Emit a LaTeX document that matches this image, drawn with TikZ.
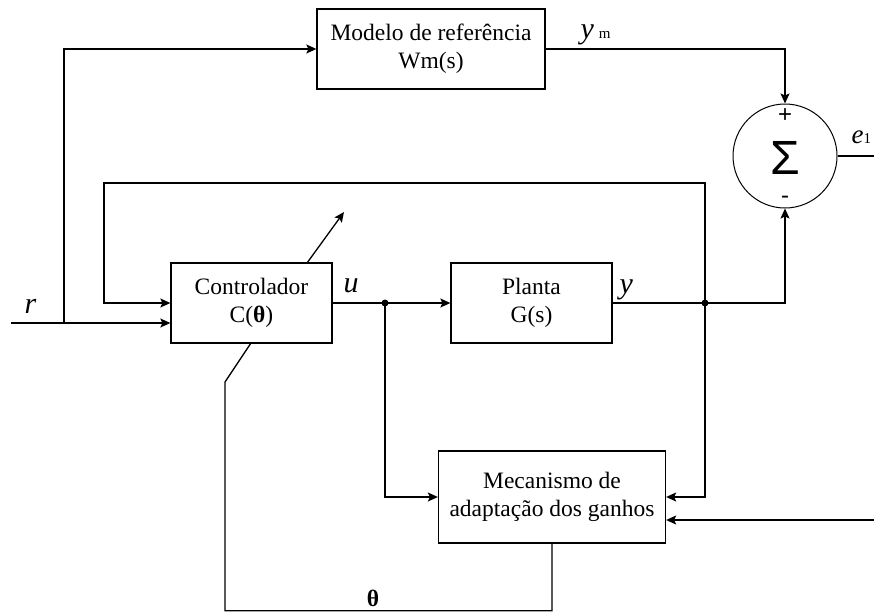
\documentclass[tikz,border=0pt]{standalone}
\usepackage{fontspec}
\setmainfont{Liberation Serif}
\newfontfamily\sigmafont{Liberation Sans}
\usetikzlibrary{arrows.meta}
\begin{document}
\begin{tikzpicture}[x=1pt,y=-1pt,
  font=\fontsize{23.5}{28}\selectfont,
  line width=1.3pt,
  blk/.style={draw, inner sep=0pt, align=center},
  arr/.style={-{Stealth[length=10pt,width=9pt,inset=2pt]}},
  dotj/.style={circle, fill, inner sep=0pt, minimum size=7pt},
  lbl/.style={inner sep=0pt},
  sig/.style={inner sep=0pt, font=\fontsize{30}{30}\selectfont\itshape, anchor=base west}]
\useasboundingbox (0,0) rectangle (874,613);

% blocks
\node[blk, minimum width=228pt, minimum height=80pt] (model) at (431,49) {Modelo de referência\\Wm(s)};
\node[blk, minimum width=161pt, minimum height=80pt] (ctrl) at (251.5,303) {Controlador\\C(\textbf{θ})};
\node[blk, minimum width=161pt, minimum height=80pt] (plant) at (531.5,303) {Planta\\G(s)};
\node[blk, minimum width=227pt, minimum height=92pt] (mech) at (552,497) {Mecanismo de\\adaptação dos ganhos};
\node[draw, circle, line width=1pt, inner sep=0pt, minimum size=104pt] (sum) at (785,156) {};
\node[lbl, font=\sigmafont\fontsize{48}{48}\selectfont, text height=34pt, text depth=0pt] (sig) at (785,157) {Σ};
\node[lbl, font=\sigmafont\fontsize{24}{24}\selectfont, text height=17pt, text depth=0pt] (plus) at (785,114) {+};
\node[lbl, font=\sigmafont\fontsize{24}{24}\selectfont, text height=9pt, text depth=0pt] (minus) at (785,199) {-};

% coordinates
\coordinate (rin) at (11,323);
\coordinate (rj) at (64,323);
\coordinate (uj) at (385,303);
\coordinate (yj) at (705,303);
\coordinate (fbtop) at (104,183);
\coordinate (eout) at (874,156);
\coordinate (ein) at (874,520);
\path (mech.south) ++(0,67) coordinate (thbot);
\coordinate (thleft) at (225,382);
\coordinate (thctrl) at (251,343);
\coordinate (dgs) at (307,263);
\coordinate (dge) at (344,212);

% r input
\draw[arr] (rin) -- (rj) -- (ctrl.west |- rj);
\draw[arr] (rj) |- (model.west);
% model to sum
\draw[arr] (model.east) -| (sum.north);
% sum output
\draw (sum.east) -- (eout);
% controller to plant
\draw[arr] (ctrl.east) -- (plant.west);
\node[dotj] at (uj) {};
% plant output
\draw (plant.east) -- (yj);
\draw[arr] (yj) -| (sum.south);
\node[dotj] at (yj) {};
% feedback y to controller
\draw[arr] (yj) |- (fbtop) |- (ctrl.west);
% inputs to mechanism
\draw[arr] (uj) |- (mech.west);
\draw[arr] (yj) |- (mech.east);
\draw[arr] (ein) -- (ein -| mech.east);
% theta loop
\draw (mech.south) -- (thbot) -| (thleft) -- (thctrl);
\draw[arr] (dgs) -- (dge);

% labels
\node[sig] (rl) at (24,313) {r};
\node[sig] (ul) at (343,292) {u};
\node[sig] (yl) at (619,293) {y};
\node[sig] (yml) at (580,38) {y\,{\upshape\fontsize{15}{15}\selectfont m}};
\node[sig, font=\fontsize{27}{27}\selectfont\itshape] (el) at (851,143) {e{\upshape\fontsize{15}{15}\selectfont 1}};
\node[lbl] (thl) at (373,598) {\textbf{θ}};
\end{tikzpicture}
\end{document}
